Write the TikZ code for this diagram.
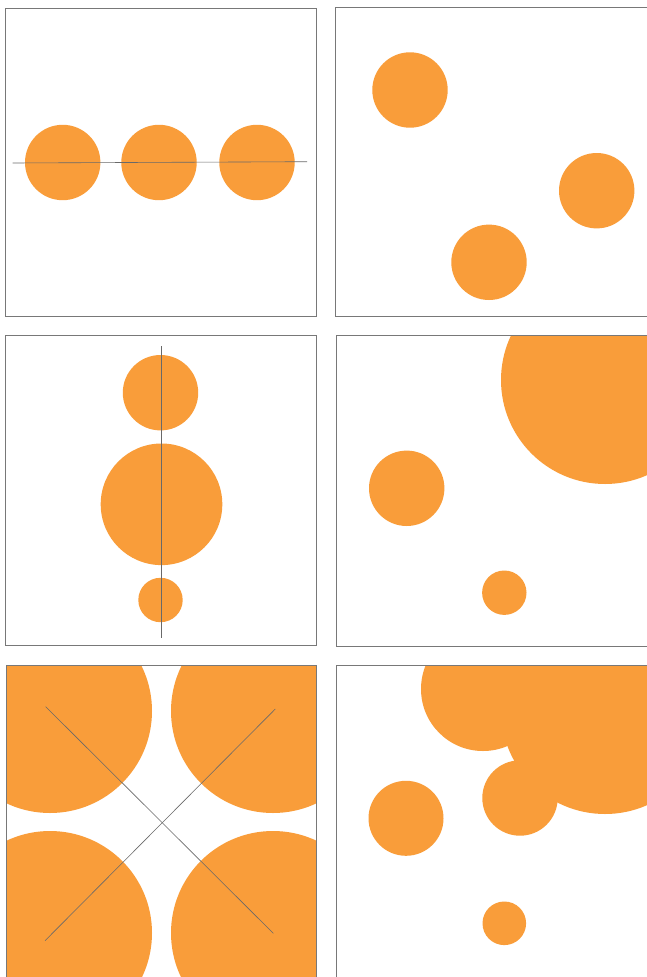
\documentclass[tikz,border=0pt]{standalone}
\usepackage{xcolor}
\usepackage{tikz}

\definecolor{dotorange}{RGB}{249,157,58}
\definecolor{framegray}{RGB}{120,120,120}
\definecolor{guidegray}{RGB}{105,105,105}

\begin{document}
\begin{tikzpicture}[x=1pt, y=-1pt,
    panel/.style={draw=framegray, line width=0.6pt},
    guide/.style={draw=guidegray, line width=0.6pt},
    disc/.style={fill=dotorange}]
\useasboundingbox (0,0) rectangle (647,977);
\fill[white] (0,0) rectangle (647,977);

% row 1, left: three equal discs on a horizontal axis
\draw[panel] (5,8) rectangle (316,316);
\foreach \x in {62.7,159,257}{
    \fill[disc] (\x,162.5) circle (37.7);
}
\coordinate (H1) at (12.7,163);
\coordinate (H2) at (307,161.7);
\draw[guide] (H1) -- (H2);

% row 1, right: three equal discs scattered
\draw[panel] (335,7) rectangle (652,316);
\foreach \p in {(410,90),(596.7,190.7),(489,262.3)}{
    \fill[disc] \p circle (37.7);
}

% row 2, left: discs of three sizes on a vertical axis
\draw[panel] (5,335) rectangle (316,645);
\fill[disc] (160.5,392.7) circle (37.7);
\fill[disc] (161.5,504.3) circle (60.8);
\fill[disc] (160.5,600) circle (22.2);
\coordinate (V1) at (161,346);
\coordinate (V2) at (161,638);
\draw[guide] (V1) -- (V2);

% row 2, right: three sizes scattered
\begin{scope}
    \clip (336,335) rectangle (652,646);
    \fill[disc] (605,380) circle (104);
\end{scope}
\fill[disc] (406.7,488.3) circle (37.7);
\fill[disc] (504.3,592.7) circle (22.2);
\draw[panel] (336,335) rectangle (652,646);

% row 3, left: four big discs round a cross
\coordinate (A) at (50,711);
\coordinate (B) at (273,711);
\coordinate (C) at (50,933);
\coordinate (D) at (273,933);
\begin{scope}
    \clip (6,665) rectangle (316,982);
    \foreach \p in {A,B,C,D}{
        \fill[disc] (\p) circle (102);
    }
\end{scope}
\draw[panel] (6,665) rectangle (316,982);
\draw[guide] (45.7,706.7) -- (273.3,933.3);
\draw[guide] (45,940.7) -- (275.3,709);

% row 3, right: overlapping discs form one shape
\begin{scope}
    \clip (336,665) rectangle (652,982);
    \fill[disc] (483,689) circle (62);
    \fill[disc] (605,710) circle (104);
    \fill[disc] (520,798) circle (37.7);
\end{scope}
\fill[disc] (406,818.3) circle (37.5);
\fill[disc] (504.3,923.3) circle (21.8);
\draw[panel] (336,665) rectangle (652,982);
\end{tikzpicture}
\end{document}
